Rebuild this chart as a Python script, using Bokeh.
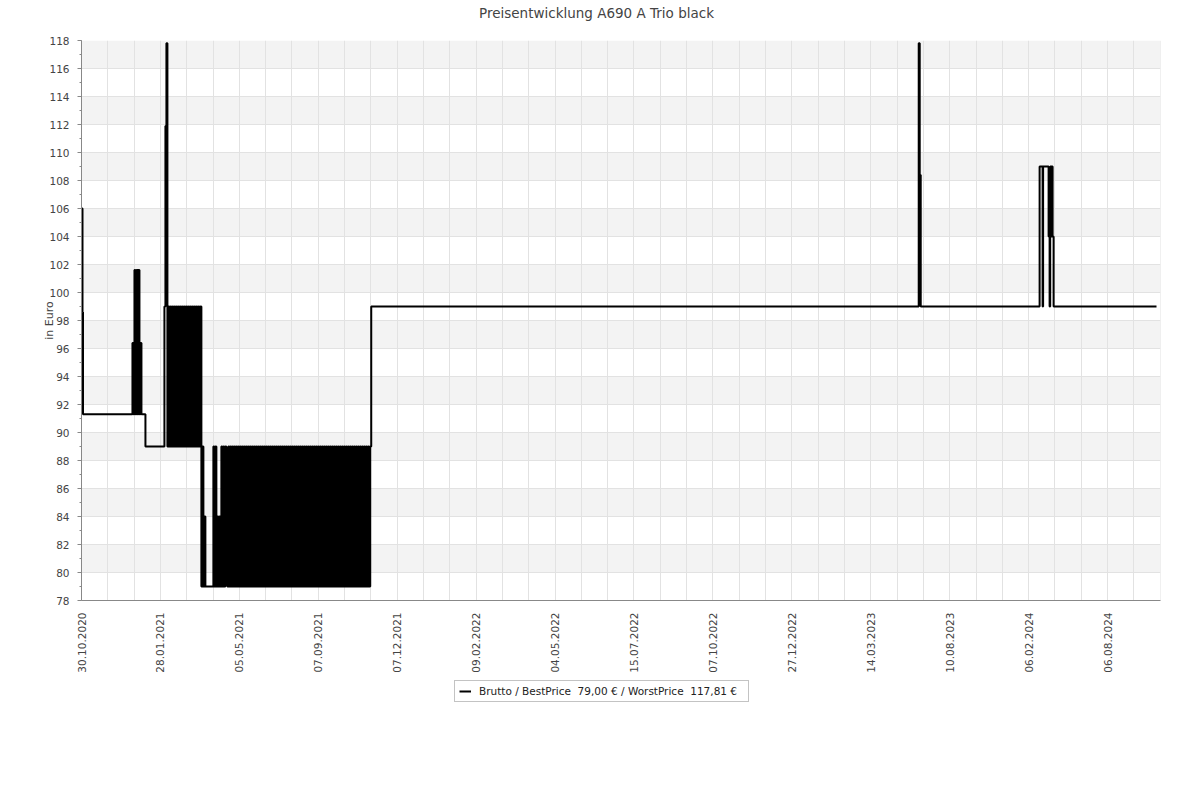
import math
from bokeh.plotting import figure
from bokeh.layouts import column
from bokeh.models import FixedTicker, Range1d, BoxAnnotation, Legend, LegendItem, Label
from bokeh.embed import file_html
from bokeh.resources import INLINE

# ---------------- data ----------------
date_labels = ["30.10.2020", "28.01.2021", "05.05.2021", "07.09.2021", "07.12.2021",
               "09.02.2022", "04.05.2022", "15.07.2022", "07.10.2022", "27.12.2022",
               "14.03.2023", "10.08.2023", "06.02.2024", "06.08.2024"]
samples_per_label = 79
n_samples = 1080

# sparse price changes (sample index, price in EUR)
chg_idx = [0, 1, 1.5,
           51, 52, 53, 54, 55, 56, 57, 58, 59, 60,
           64,
           838, 839, 840,
           959, 962, 962.5, 968, 969, 969.6, 970, 970.5, 971, 971.5, 972, 973,
           1076]
chg_price = [106.0, 98.6, 91.3,
             96.4, 91.3, 101.6, 91.3, 101.6, 91.3, 101.6, 91.3, 96.4, 91.3,
             89.0,
             117.81, 108.4, 99.0,
             109.0, 99.0, 109.0, 104.0, 99.0, 109.0, 104.0, 109.0, 104.0, 109.0, 104.0, 99.0,
             99.0]

# volatile period early 2021: one price per sample
burst1_start = 83
burst1_prices = [99.0, 111.9, 117.81,
                 89, 99, 89, 99, 89, 99, 89, 99, 89, 99, 89, 99, 89, 99, 89, 99, 89, 99,
                 89, 99, 89, 99, 89, 99, 89, 99, 89, 99, 89, 99, 89, 99, 89, 99,
                 79, 89, 79, 84, 79]

# volatile period spring - autumn 2021: one price per sample
burst2_start = 132
burst2_prices = [89, 79, 89, 79, 84, 79, 84, 79, 89, 79, 89, 79, 89, 84, 79, 89,
                 79, 89, 79, 89, 79, 89, 79, 89, 79, 89, 79, 89, 79, 89, 79, 89, 79, 89, 79, 89,
                 79, 89, 79, 89, 79, 89, 79, 89, 79, 89, 79, 89, 79, 89, 79, 89, 79, 89, 79, 89,
                 79, 89, 79, 89, 79, 89, 79, 89, 79, 89, 79, 89, 79, 89, 79, 89, 79, 89, 79, 89,
                 79, 89, 79, 89, 79, 89, 79, 89, 79, 89, 79, 89, 79, 89, 79, 89, 79, 89, 79, 89,
                 79, 89, 79, 89, 79, 89, 79, 89, 79, 89, 79, 89, 79, 89, 79, 89, 79, 89, 79, 89,
                 79, 89, 79, 89, 79, 89, 79, 89, 79, 89, 79, 89, 79, 89, 79, 89, 79, 89, 79, 89,
                 79, 89, 79, 89, 79, 89, 79, 89, 79, 89, 79, 89, 79, 89, 79, 89, 79, 89, 79, 89,
                 79, 89,
                 99.0]

# ---------------- assemble step series ----------------
pts = list(zip(chg_idx, chg_price))
pts += [(burst1_start + k, v) for k, v in enumerate(burst1_prices)]
pts += [(burst2_start + k, v) for k, v in enumerate(burst2_prices)]
pts.sort(key=lambda t: t[0])
xs = [t[0] for t in pts]
ys = [float(t[1]) for t in pts]

best = min(ys)
worst = max(ys)
def eur(v):
    return f"{v:.2f}".replace(".", ",")
legend_label = f"Brutto / BestPrice  {eur(best)} € / WorstPrice  {eur(worst)} €"
title_text = "Preisentwicklung A690 A Trio black"

FONT = "DejaVu Sans"
TXT = "#444444"
W = 1192

# ---------------- title strip ----------------
tf = figure(width=W, height=30, output_backend="svg", toolbar_location=None,
            x_range=Range1d(0, 1), y_range=Range1d(0, 1),
            x_axis_type=None, y_axis_type=None, min_border=0)
tf.outline_line_color = None
tf.grid.visible = False
tf.add_layout(Label(x=515, y=18, x_units="screen", y_units="screen", text=title_text,
                    text_align="center", text_baseline="middle", text_font=FONT,
                    text_font_size="13.5px", text_color=TXT))

# ---------------- main chart ----------------
p = figure(width=W, height=650, output_backend="svg", toolbar_location=None,
           x_range=Range1d(0, n_samples), y_range=Range1d(78, 118),
           min_border_left=81, min_border_right=32, min_border_top=10,
           min_border_bottom=80)
p.outline_line_color = None
p.background_fill_color = "white"
p.border_fill_color = "white"

# alternating horizontal bands
for lo in range(80, 118, 4):
    p.add_layout(BoxAnnotation(bottom=lo, top=lo + 2, fill_color="#f3f3f3", fill_alpha=1.0,
                               line_alpha=0, level="image"))

label_pos = [k * samples_per_label for k in range(len(date_labels))]
grid_pos = [k * samples_per_label / 3 for k in range(3 * len(date_labels))]

xa = p.xaxis[0]
xa.ticker = FixedTicker(ticks=label_pos, minor_ticks=[])
xa.major_label_overrides = {pos: lab for pos, lab in zip(label_pos, date_labels)}
xa.major_label_orientation = math.pi / 2
xa.major_tick_out = 0
xa.major_tick_in = 0
xa.minor_tick_out = 0
xa.minor_tick_in = 0
xa.major_label_standoff = 12
xa.axis_line_color = "#888888"
xa.major_label_text_font = FONT
xa.major_label_text_font_size = "10.5px"
xa.major_label_text_color = TXT

p.xgrid.ticker = FixedTicker(ticks=grid_pos)
p.xgrid.grid_line_color = "#e2e2e2"
p.ygrid.grid_line_color = "#e2e2e2"

ya = p.yaxis[0]
ya.ticker = FixedTicker(ticks=list(range(78, 119, 2)), minor_ticks=list(range(78, 119)))
ya.major_tick_out = 4
ya.major_tick_in = 0
ya.minor_tick_out = 2
ya.minor_tick_in = 0
ya.axis_line_color = "#888888"
ya.major_tick_line_color = "#888888"
ya.minor_tick_line_color = "#888888"
ya.major_label_standoff = 8
ya.major_label_text_font = FONT
ya.major_label_text_font_size = "10.5px"
ya.major_label_text_color = TXT
ya.axis_label = "in Euro"
ya.axis_label_text_font = FONT
ya.axis_label_text_font_size = "11px"
ya.axis_label_text_font_style = "normal"
ya.axis_label_text_color = TXT
ya.axis_label_standoff = -10

p.step(xs, ys, mode="after", line_color="black", line_width=2)

# ---------------- legend strip ----------------
lf = figure(width=W, height=34, output_backend="svg", toolbar_location=None,
            x_range=Range1d(0, 1), y_range=Range1d(0, 1),
            x_axis_type=None, y_axis_type=None, min_border=0)
lf.outline_line_color = None
lf.grid.visible = False
# same series; it lies outside this strip's ranges and only feeds the legend key
key = lf.step(xs, ys, mode="after", line_color="black", line_width=2)
legend = Legend(items=[LegendItem(label=legend_label, renderers=[key])],
                location=(373, 12), orientation="horizontal",
                border_line_color="#888888", border_line_width=1,
                label_text_font=FONT, label_text_font_size="10.5px", label_text_color="#222222",
                glyph_width=12, glyph_height=12, padding=4, margin=0,
                label_standoff=8, spacing=0, label_height=12, label_width=265)
lf.add_layout(legend, "center")

layout = column(tf, p, lf, spacing=0)
open("out.html", "w").write(file_html(layout, INLINE))
